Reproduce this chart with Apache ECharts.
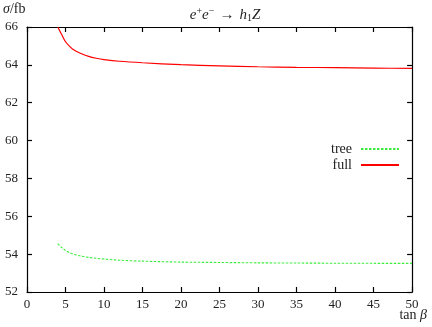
<!DOCTYPE html>
<html>
<head>
<meta charset="utf-8">
<script src="https://cdn.jsdelivr.net/npm/echarts@6/dist/echarts.min.js"></script>
<style>
  html, body { margin: 0; padding: 0; background: #fff; }
  #chart { width: 432px; height: 327px; }
</style>
</head>
<body>
<div id="chart"></div>
<script>
// tan beta values and cross sections (fb)
const tanBeta = [4, 4.5, 5, 5.5, 6, 7, 8, 9, 10, 12, 15, 20, 25, 30, 35, 40, 45, 50]
const fullSigma = [66.0, 65.6, 65.22, 64.99, 64.81, 64.6, 64.45, 64.35, 64.28, 64.19, 64.11, 64.01, 63.95, 63.9, 63.87, 63.85, 63.83, 63.81]
const treeSigma = [54.56, 54.35, 54.2, 54.08, 54.0, 53.9, 53.83, 53.78, 53.74, 53.68, 53.63, 53.58, 53.56, 53.54, 53.53, 53.52, 53.515, 53.51]
const xTicks = { min: 0, max: 50, interval: 5 }
const yTicks = { min: 52, max: 66, interval: 2 }

const font = '"Liberation Serif", "DejaVu Serif", serif'
const chart = echarts.init(document.getElementById('chart'))

const pairs = ys => tanBeta.map((x, i) => [x, ys[i]])

// fresh objects for every axis
const axisLine = () => ({ show: true, onZero: false, lineStyle: { color: '#000', width: 1.2 } })
const axisTick = () => ({ show: true, inside: true, length: 5, lineStyle: { color: '#000', width: 1.2 } })

chart.setOption({
  animation: false,
  title: {
    text: '{i|e}{s|+}{i|e}{s|−} {n|→} {i|h}{b|1}{i|Z}',
    left: 220,
    top: 1,
    textAlign: 'center',
    textStyle: {
      fontWeight: 'normal',
      rich: {
        i: { fontFamily: font, fontStyle: 'italic', fontWeight: 'normal', fontSize: 15, color: '#222' },
        n: { fontFamily: font, fontWeight: 'normal', fontSize: 15, color: '#222' },
        s: { fontFamily: font, fontWeight: 'normal', fontSize: 10, color: '#222', verticalAlign: 'top', padding: [0, 0, 7, 0] },
        b: { fontFamily: font, fontWeight: 'normal', fontSize: 10, color: '#222', padding: [7, 0, 0, 0] }
      }
    }
  },
  grid: { left: 27, right: 16, top: 27, bottom: 35 },
  legend: {
    orient: 'vertical',
    right: 27,
    top: 137,
    align: 'right',
    itemWidth: 38,
    itemHeight: 12,
    itemGap: 2,
    itemStyle: { opacity: 0 },
    textStyle: { fontFamily: font, fontSize: 14, color: '#222', padding: [0, 4, 0, 0] },
    data: ['tree', 'full']
  },
  xAxis: [
    {
      type: 'value', min: xTicks.min, max: xTicks.max, interval: xTicks.interval,
      position: 'bottom', splitLine: { show: false }, axisLine: axisLine(), axisTick: axisTick(),
      axisLabel: { fontFamily: font, fontSize: 13, color: '#222', margin: 6 }
    },
    {
      type: 'value', min: xTicks.min, max: xTicks.max, interval: xTicks.interval,
      position: 'top', splitLine: { show: false }, axisLine: axisLine(), axisTick: axisTick(),
      axisLabel: { show: true, color: '#fff', fontSize: 8 }
    }
  ],
  yAxis: [
    {
      type: 'value', min: yTicks.min, max: yTicks.max, interval: yTicks.interval,
      position: 'left', splitLine: { show: false }, axisLine: axisLine(), axisTick: axisTick(),
      axisLabel: { fontFamily: font, fontSize: 13, color: '#222', margin: 9 }
    },
    {
      type: 'value', min: yTicks.min, max: yTicks.max, interval: yTicks.interval,
      position: 'right', splitLine: { show: false }, axisLine: axisLine(), axisTick: axisTick(),
      axisLabel: { show: true, color: '#fff', fontSize: 8 }
    }
  ],
  graphic: [
    {
      type: 'text', left: 3, top: 2,
      style: {
        text: '{i|σ}{n|/fb}',
        rich: {
          i: { fontFamily: font, fontStyle: 'italic', fontSize: 14, fill: '#222' },
          n: { fontFamily: font, fontSize: 14, fill: '#222' }
        }
      }
    },
    {
      type: 'text', right: 5, top: 308,
      style: {
        text: '{n|tan }{i|β}',
        rich: {
          i: { fontFamily: font, fontStyle: 'italic', fontSize: 14, fill: '#222' },
          n: { fontFamily: font, fontSize: 14, fill: '#222' }
        }
      }
    }
  ],
  series: [
    {
      name: 'tree',
      type: 'line',
      xAxisIndex: 1,
      yAxisIndex: 1,
      data: pairs(treeSigma),
      smooth: 0.3,
      symbol: 'none',
      clip: true,
      lineStyle: { color: '#3dec3d', width: 1.1, type: [2.5, 1.5] },
      itemStyle: { color: '#3dec3d' }
    },
    {
      name: 'full',
      type: 'line',
      xAxisIndex: 0,
      yAxisIndex: 0,
      data: pairs(fullSigma),
      smooth: 0.3,
      symbol: 'none',
      clip: true,
      lineStyle: { color: '#ff0000', width: 1.2 },
      itemStyle: { color: '#ff0000' }
    }
  ]
})
</script>
</body>
</html>
